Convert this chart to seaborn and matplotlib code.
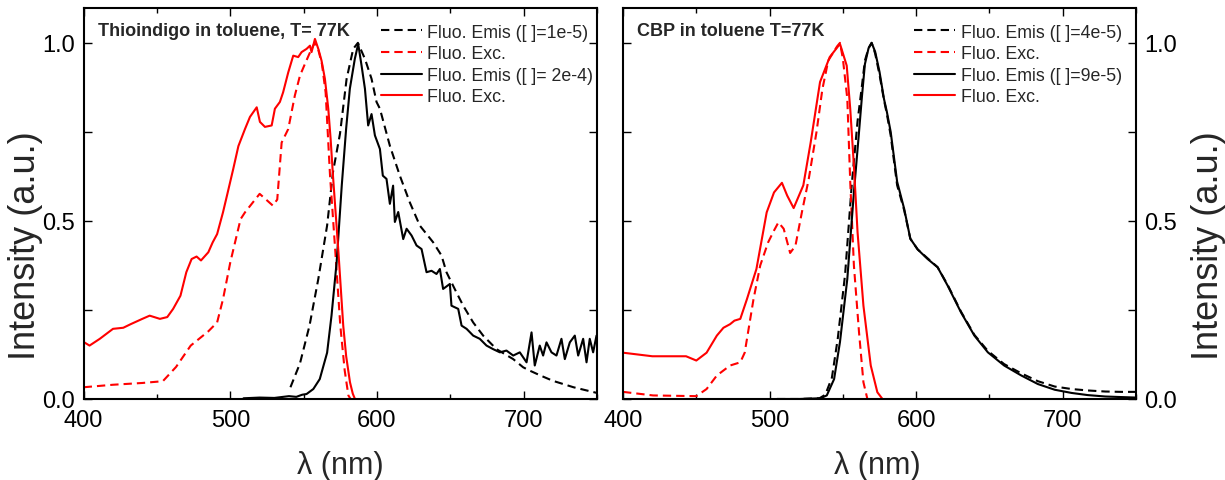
import matplotlib
matplotlib.use("Agg")
import matplotlib.pyplot as plt
from matplotlib.ticker import MultipleLocator
import seaborn as sns
import pandas as pd

# ---------------- data ----------------
# Left panel: Thioindigo
thio_emis_1e5_x = [541, 547.5, 554, 560, 566, 570, 574.8, 579.3, 583.8, 587, 591.8, 596.3, 599.7, 602,
                   608.8, 615.6, 622.4, 629.2, 638.3, 644, 647.4, 653, 658.8, 665.6, 672.4, 681.5,
                   692.9, 699.7, 704, 712, 720, 734, 750]
thio_emis_1e5_y = [0.033, 0.10, 0.206, 0.337, 0.487, 0.637, 0.745, 0.899, 0.983, 1.0, 0.955, 0.899, 0.834,
                   0.815, 0.711, 0.627, 0.552, 0.487, 0.44, 0.403, 0.356, 0.309, 0.262, 0.215, 0.178,
                   0.14, 0.112, 0.089, 0.08, 0.065, 0.051, 0.033, 0.017]

thio_exc_1e5_x = [400, 420, 440, 454, 463, 473, 479, 485, 491, 495, 500, 507, 510, 520, 529, 532, 535,
                  539.5, 544, 547.5, 550.9, 554, 557.5, 560, 562.5, 565, 568, 571.5, 575, 578, 580.5, 582]
thio_exc_1e5_y = [0.033, 0.04, 0.045, 0.05, 0.09, 0.15, 0.17, 0.19, 0.215, 0.28, 0.384, 0.505, 0.524,
                  0.576, 0.543, 0.56, 0.72, 0.758, 0.852, 0.908, 0.941, 0.97, 1.0, 0.98, 0.94, 0.86,
                  0.627, 0.42, 0.206, 0.08, 0.01, 0.0]

thio_emis_2e4_x = [509, 520, 530, 540, 545, 549, 552, 556.6, 561, 566, 569, 572.5, 576, 579, 581.5,
                   584.9, 587.2, 589.5, 591.8, 594, 596.3, 598.6, 602, 604, 606.5, 608.8, 611, 612.2,
                   614.5, 617.9, 620.2, 623.6, 627, 630.4, 633.8, 637.2, 640.6, 642.9, 645.1, 649.7,
                   650.8, 655.4, 657.7, 661.1, 665.6, 670.1, 674.7, 679.2, 683.8, 688.3, 692.9, 697.4,
                   702, 705.4, 707.6, 711, 713.3, 715.6, 719, 722.4, 725.8, 728.1, 731.5, 734.9, 737.2,
                   740.6, 742.9, 745.1, 747.4, 749.7]
thio_emis_2e4_y = [0.002, 0.004, 0.003, 0.008, 0.006, 0.012, 0.014, 0.028, 0.056, 0.13, 0.234, 0.384,
                   0.60, 0.76, 0.871, 0.955, 0.997, 0.936, 0.871, 0.768, 0.80, 0.74, 0.702, 0.627, 0.618,
                   0.548, 0.599, 0.497, 0.525, 0.449, 0.478, 0.459, 0.431, 0.421, 0.356, 0.36, 0.351,
                   0.365, 0.309, 0.323, 0.262, 0.253, 0.206, 0.197, 0.178, 0.169, 0.15, 0.14, 0.131,
                   0.136, 0.122, 0.131, 0.103, 0.187, 0.094, 0.15, 0.122, 0.159, 0.131, 0.122, 0.169,
                   0.112, 0.159, 0.178, 0.122, 0.169, 0.103, 0.169, 0.131, 0.178]

thio_exc_2e4_x = [400, 404, 411, 420, 427, 432, 440, 445, 452, 457, 461, 466, 470, 473.6, 477, 480,
                  485, 488, 491, 495, 498, 502, 505.5, 510, 513.4, 518, 520.2, 523.6, 528.2, 530.4,
                  533.8, 536, 539.5, 542.9, 546.3, 548.6, 552, 554.3, 555.4, 557.7, 560, 562.2, 564.5,
                  566.8, 568.4, 570, 573.6, 577, 579, 581.6, 583.5, 585]
thio_exc_2e4_y = [0.16, 0.15, 0.169, 0.197, 0.20, 0.21, 0.225, 0.234, 0.225, 0.23, 0.253, 0.29, 0.356,
                  0.393, 0.40, 0.389, 0.412, 0.44, 0.463, 0.524, 0.576, 0.646, 0.71, 0.758, 0.792,
                  0.819, 0.778, 0.764, 0.768, 0.815, 0.834, 0.861, 0.917, 0.964, 0.96, 0.974, 0.983,
                  0.992, 0.974, 1.011, 0.983, 0.95, 0.899, 0.815, 0.73, 0.627, 0.42, 0.206, 0.12,
                  0.047, 0.015, 0.0]

# Right panel: CBP
cbp_emis_4e5_x = [505, 520, 534, 538, 542.5, 546.5, 551.5, 556, 560, 563, 565, 567.5, 569.6, 572, 575,
                  578, 580, 582.6, 587, 591.8, 596, 601, 607.8, 614.6, 621.5, 630.6, 639.7, 648.9, 660,
                  671.7, 683, 694.5, 706, 717, 729, 740, 750]
cbp_emis_4e5_y = [0.0, 0.0, 0.002, 0.012, 0.06, 0.17, 0.35, 0.60, 0.78, 0.88, 0.95, 0.985, 1.0, 0.97,
                  0.91, 0.84, 0.80, 0.74, 0.60, 0.53, 0.45, 0.42, 0.395, 0.37, 0.32, 0.245, 0.18, 0.135,
                  0.098, 0.072, 0.05, 0.035, 0.028, 0.024, 0.021, 0.02, 0.02]

cbp_exc_4e5_x = [400, 420.5, 450, 457, 464, 473, 480, 483, 489, 493.6, 499, 503, 506, 509.6, 514,
                 517.6, 522, 526.7, 532, 536, 540, 546, 548, 550, 553, 555, 557.5, 561, 564, 566.7]
cbp_exc_4e5_y = [0.02, 0.01, 0.008, 0.028, 0.066, 0.094, 0.103, 0.13, 0.28, 0.375, 0.44, 0.473, 0.496,
                 0.478, 0.41, 0.43, 0.524, 0.618, 0.75, 0.87, 0.95, 0.99, 1.0, 0.955, 0.843, 0.61,
                 0.375, 0.187, 0.047, 0.0]

cbp_emis_9e5_x = [505, 520, 534.7, 539, 544, 548, 553, 557.5, 561, 563, 565, 567.5, 569.6, 572, 575,
                  578, 580, 582.6, 587, 591.8, 596, 601, 607.8, 614.6, 621.5, 630.6, 639.7, 648.9, 660,
                  671.7, 683, 694.5, 706, 717, 729, 750]
cbp_emis_9e5_y = [0.0, 0.0, 0.002, 0.01, 0.056, 0.16, 0.337, 0.58, 0.75, 0.85, 0.94, 0.985, 1.0, 0.975,
                  0.918, 0.843, 0.806, 0.75, 0.61, 0.534, 0.45, 0.42, 0.393, 0.37, 0.318, 0.243, 0.178,
                  0.131, 0.094, 0.066, 0.042, 0.026, 0.017, 0.011, 0.007, 0.004]

cbp_exc_9e5_x = [400, 420, 443, 450, 457, 464, 468.5, 473, 476, 480, 484.5, 491, 498, 503, 508.4, 512,
                 516.4, 523, 528, 534.4, 541, 548, 552.6, 555, 557.5, 560, 564, 569, 573.5, 577]
cbp_exc_9e5_y = [0.13, 0.12, 0.12, 0.108, 0.13, 0.178, 0.20, 0.21, 0.22, 0.225, 0.28, 0.365, 0.524,
                 0.58, 0.607, 0.571, 0.536, 0.60, 0.72, 0.89, 0.96, 0.997, 0.936, 0.815, 0.655, 0.468,
                 0.262, 0.094, 0.019, 0.0]

left_title = "Thioindigo in toluene, T= 77K"
right_title = "CBP in toluene T=77K"
left_labels = ["Fluo. Emis ([ ]=1e-5)", "Fluo. Exc.", "Fluo. Emis ([ ]= 2e-4)", "Fluo. Exc."]
right_labels = ["Fluo. Emis ([ ]=4e-5)", "Fluo. Exc.", "Fluo. Emis ([ ]=9e-5)", "Fluo. Exc."]
x_ticks = [400, 500, 600, 700]
y_ticks = [0.0, 0.5, 1.0]

# ---------------- style ----------------
sns.set_style("white")
plt.rcParams["font.family"] = ["Liberation Sans", "DejaVu Sans"]

DASH = (0, (4, 2.4))
LW = 1.5

fig = plt.figure(figsize=(12.25, 4.81), dpi=100)
axL = fig.add_axes([0.0683, 0.1684, 0.419, 0.8123])
axR = fig.add_axes([0.5086, 0.1684, 0.4188, 0.8123])

def draw(ax, series, labels):
    styles = [("black", DASH), ("red", DASH), ("black", "-"), ("red", "-")]
    for (xs, ys), lab, (c, ls) in zip(series, labels, styles):
        assert len(xs) == len(ys)
        df = pd.DataFrame({"x": xs, "y": ys})
        sns.lineplot(data=df, x="x", y="y", ax=ax, color=c, linestyle=ls, lw=LW,
                     label=lab, sort=False, estimator=None)

draw(axL, [(thio_emis_1e5_x, thio_emis_1e5_y), (thio_exc_1e5_x, thio_exc_1e5_y),
           (thio_emis_2e4_x, thio_emis_2e4_y), (thio_exc_2e4_x, thio_exc_2e4_y)], left_labels)
draw(axR, [(cbp_emis_4e5_x, cbp_emis_4e5_y), (cbp_exc_4e5_x, cbp_exc_4e5_y),
           (cbp_emis_9e5_x, cbp_emis_9e5_y), (cbp_exc_9e5_x, cbp_exc_9e5_y)], right_labels)

for ax in (axL, axR):
    ax.set_xlim(400, 750)
    ax.set_ylim(0, 1.097)
    ax.set_xticks(x_ticks)
    ax.xaxis.set_minor_locator(MultipleLocator(50))
    ax.set_yticks(y_ticks)
    ax.set_yticklabels([f"{v:.1f}" for v in y_ticks])
    ax.yaxis.set_minor_locator(MultipleLocator(0.25))
    for s in ax.spines.values():
        s.set_linewidth(1.5)
        s.set_color("black")
    ax.tick_params(which="both", direction="in", top=True, right=True, left=True, bottom=True,
                   width=1.0, color="black", labelsize=17, labelcolor="black")
    ax.tick_params(axis="x", which="major", length=5.5, pad=7)
    ax.tick_params(axis="x", which="minor", length=3.5)
    ax.tick_params(axis="y", which="both", length=6, pad=6)
    ax.set_xlabel("λ (nm)", fontsize=22)
    ax.set_ylabel("Intensity (a.u.)", fontsize=26)

axR.tick_params(axis="y", labelleft=False, labelright=True)
axR.yaxis.set_label_position("right")

axL.xaxis.set_label_coords(0.5, -0.13)
axR.xaxis.set_label_coords(0.495, -0.13)
axL.yaxis.set_label_coords(-0.08, 0.395)
axR.yaxis.set_label_coords(1.108, 0.395)

axL.text(0.028, 0.942, left_title, transform=axL.transAxes, fontsize=13, fontweight="bold",
         va="center", ha="left")
axR.text(0.028, 0.942, right_title, transform=axR.transAxes, fontsize=13, fontweight="bold",
         va="center", ha="left")

for ax, xr in ((axL, 0.993), (axR, 0.972)):
    ax.legend(loc="upper right", bbox_to_anchor=(xr, 0.961), frameon=False, fontsize=12.8,
              handlelength=2.3, handletextpad=0.3, labelspacing=0.26, borderpad=0, borderaxespad=0)

fig.savefig("out.png", dpi=100)
